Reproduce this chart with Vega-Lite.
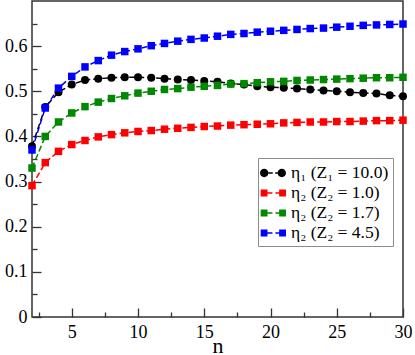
{
  "$schema": "https://vega.github.io/schema/vega-lite/v6.json",
  "width": 371,
  "height": 316,
  "autosize": "none",
  "padding": {"left": 32, "top": 1, "right": 12, "bottom": 38},
  "background": "white",
  "config": {"view": {"stroke": "#333333", "strokeWidth": 1.5}, "font": "Liberation Serif"},
  "data": {"values": [
    {"n": 2, "a": 0.378, "b": 0.291, "c": 0.330, "d": 0.370},
    {"n": 3, "a": 0.465, "b": 0.342, "c": 0.400, "d": 0.463},
    {"n": 4, "a": 0.498, "b": 0.367, "c": 0.432, "d": 0.507},
    {"n": 5, "a": 0.515, "b": 0.382, "c": 0.452, "d": 0.533},
    {"n": 6, "a": 0.525, "b": 0.391, "c": 0.466, "d": 0.554},
    {"n": 7, "a": 0.528, "b": 0.399, "c": 0.476, "d": 0.568},
    {"n": 8, "a": 0.530, "b": 0.404, "c": 0.484, "d": 0.580},
    {"n": 9, "a": 0.531, "b": 0.408, "c": 0.490, "d": 0.588},
    {"n": 10, "a": 0.531, "b": 0.411, "c": 0.496, "d": 0.594},
    {"n": 11, "a": 0.530, "b": 0.413, "c": 0.500, "d": 0.601},
    {"n": 12, "a": 0.528, "b": 0.416, "c": 0.504, "d": 0.606},
    {"n": 13, "a": 0.526, "b": 0.418, "c": 0.506, "d": 0.611},
    {"n": 14, "a": 0.525, "b": 0.420, "c": 0.509, "d": 0.615},
    {"n": 15, "a": 0.523, "b": 0.422, "c": 0.511, "d": 0.618},
    {"n": 16, "a": 0.521, "b": 0.423, "c": 0.513, "d": 0.622},
    {"n": 17, "a": 0.517, "b": 0.425, "c": 0.516, "d": 0.626},
    {"n": 18, "a": 0.515, "b": 0.426, "c": 0.517, "d": 0.628},
    {"n": 19, "a": 0.511, "b": 0.427, "c": 0.519, "d": 0.631},
    {"n": 20, "a": 0.509, "b": 0.428, "c": 0.521, "d": 0.633},
    {"n": 21, "a": 0.508, "b": 0.430, "c": 0.522, "d": 0.635},
    {"n": 22, "a": 0.506, "b": 0.431, "c": 0.524, "d": 0.637},
    {"n": 23, "a": 0.504, "b": 0.432, "c": 0.525, "d": 0.639},
    {"n": 24, "a": 0.502, "b": 0.432, "c": 0.526, "d": 0.640},
    {"n": 25, "a": 0.500, "b": 0.433, "c": 0.527, "d": 0.642},
    {"n": 26, "a": 0.498, "b": 0.433, "c": 0.528, "d": 0.644},
    {"n": 27, "a": 0.496, "b": 0.434, "c": 0.529, "d": 0.646},
    {"n": 28, "a": 0.495, "b": 0.435, "c": 0.530, "d": 0.647},
    {"n": 29, "a": 0.491, "b": 0.435, "c": 0.530, "d": 0.648},
    {"n": 30, "a": 0.489, "b": 0.436, "c": 0.531, "d": 0.649}
  ]},
  "transform": [{"fold": ["a", "b", "c", "d"], "as": ["s", "v"]}],
  "encoding": {
    "x": {
      "field": "n", "type": "quantitative",
      "scale": {"domain": [2, 30], "nice": false, "zero": false},
      "axis": {
        "title": "n",
        "values": [2.5, 5, 7.5, 10, 12.5, 15, 17.5, 20, 22.5, 25, 27.5, 30],
        "labelExpr": "datum.value % 5 === 0 ? format(datum.value, 'd') : ''",
        "domain": false, "grid": false,
        "tickColor": "#333333", "tickWidth": 1.3,
        "tickSize": {"condition": {"test": "datum.value % 5 === 0", "value": -9}, "value": -5},
        "labelPadding": 15, "labelFlush": false, "labelOverlap": false,
        "labelFont": "Liberation Serif", "labelFontSize": 18, "labelColor": "black",
        "titleFont": "Liberation Serif", "titleFontSize": 22, "titleFontWeight": "normal", "titleColor": "black",
        "titleBaseline": "alphabetic",
        "titleY": 35
      }
    },
    "y": {
      "field": "v", "type": "quantitative",
      "scale": {"domain": [0, 0.7], "nice": false, "zero": true},
      "axis": {
        "title": null,
        "values": [0, 0.05, 0.1, 0.15, 0.2, 0.25, 0.3, 0.35, 0.4, 0.45, 0.5, 0.55, 0.6, 0.65],
        "labelExpr": "round(datum.value * 100) % 10 === 0 ? (datum.value === 0 ? '0' : format(datum.value, '.1f')) : ''",
        "domain": false, "grid": false,
        "tickColor": "#333333", "tickWidth": 1.3,
        "tickSize": {"condition": {"test": "round(datum.value * 100) % 10 === 0", "value": -9}, "value": -5},
        "labelPadding": 14, "labelFlush": false, "labelOverlap": false,
        "labelFont": "Liberation Serif", "labelFontSize": 18, "labelColor": "black"
      }
    },
    "color": {
      "field": "s", "type": "nominal",
      "scale": {"domain": ["a", "b", "c", "d"], "range": ["#000000", "#ff0000", "#008800", "#0000ff"]},
      "legend": {
        "title": null,
        "orient": "none",
        "legendX": 226,
        "legendY": 157,
        "padding": 4,
        "fillColor": "white",
        "strokeColor": "#8c8c8c",
        "symbolSize": 484,
        "symbolStrokeWidth": 0,
        "symbolOpacity": 1,
        "labelOffset": 7,
        "rowPadding": 0,
        "labelFont": "Liberation Serif",
        "labelFontSize": 17.5,
        "labelColor": "black",
        "labelLimit": 300,
        "labelExpr": "datum.value === 'a' ? 'η₁ (Z₁ = 10.0)' : datum.value === 'b' ? 'η₂ (Z₂ = 1.0)' : datum.value === 'c' ? 'η₂ (Z₂ = 1.7)' : 'η₂ (Z₂ = 4.5)'"
      }
    }
  },
  "layer": [
    {"mark": {"type": "line", "strokeDash": [6, 3], "strokeWidth": 1.5}, "encoding": {}},
    {
      "transform": [{"filter": "datum.s === 'a'"}],
      "mark": {"type": "point", "shape": "circle", "filled": true, "size": 64, "opacity": 1}
    },
    {
      "transform": [{"filter": "datum.s !== 'a'"}],
      "mark": {"type": "point", "shape": "square", "filled": true, "size": 56, "opacity": 1}
    },
    {
      "mark": {"type": "point", "filled": true, "size": 0, "opacity": 1},
      "encoding": {
        "shape": {
          "field": "s", "type": "nominal",
          "scale": {"domain": ["a", "b", "c", "d"], "range": [
            "M-1.18,0A0.38,0.38 0 1,0 -0.42,0A0.38,0.38 0 1,0 -1.18,0Z M0.42,0A0.38,0.38 0 1,0 1.18,0A0.38,0.38 0 1,0 0.42,0Z M-0.42,-0.07H-0.02V0.07H-0.42Z M0.2,-0.07H0.42V0.07H0.2Z",
            "M-1.12,-0.31H-0.5V0.31H-1.12Z M0.56,-0.31H1.18V0.31H0.56Z M-0.5,-0.07H-0.05V0.07H-0.5Z M0.22,-0.07H0.56V0.07H0.22Z",
            "M-1.12,-0.31H-0.5V0.31H-1.12Z M0.56,-0.31H1.18V0.31H0.56Z M-0.5,-0.07H-0.05V0.07H-0.5Z M0.22,-0.07H0.56V0.07H0.22Z",
            "M-1.12,-0.31H-0.5V0.31H-1.12Z M0.56,-0.31H1.18V0.31H0.56Z M-0.5,-0.07H-0.05V0.07H-0.5Z M0.22,-0.07H0.56V0.07H0.22Z"
          ]},
          "legend": {
            "title": null,
            "orient": "none",
            "legendX": 226,
            "legendY": 157,
            "padding": 4,
            "fillColor": "white",
            "strokeColor": "#8c8c8c",
            "symbolSize": 484,
            "symbolStrokeWidth": 0,
            "symbolOpacity": 1,
            "labelOffset": 7,
            "rowPadding": 0,
            "labelFont": "Liberation Serif",
            "labelFontSize": 17.5,
            "labelColor": "black",
            "labelLimit": 300,
            "labelExpr": "datum.value === 'a' ? 'η₁ (Z₁ = 10.0)' : datum.value === 'b' ? 'η₂ (Z₂ = 1.0)' : datum.value === 'c' ? 'η₂ (Z₂ = 1.7)' : 'η₂ (Z₂ = 4.5)'"
          }
        }
      }
    }
  ]
}
